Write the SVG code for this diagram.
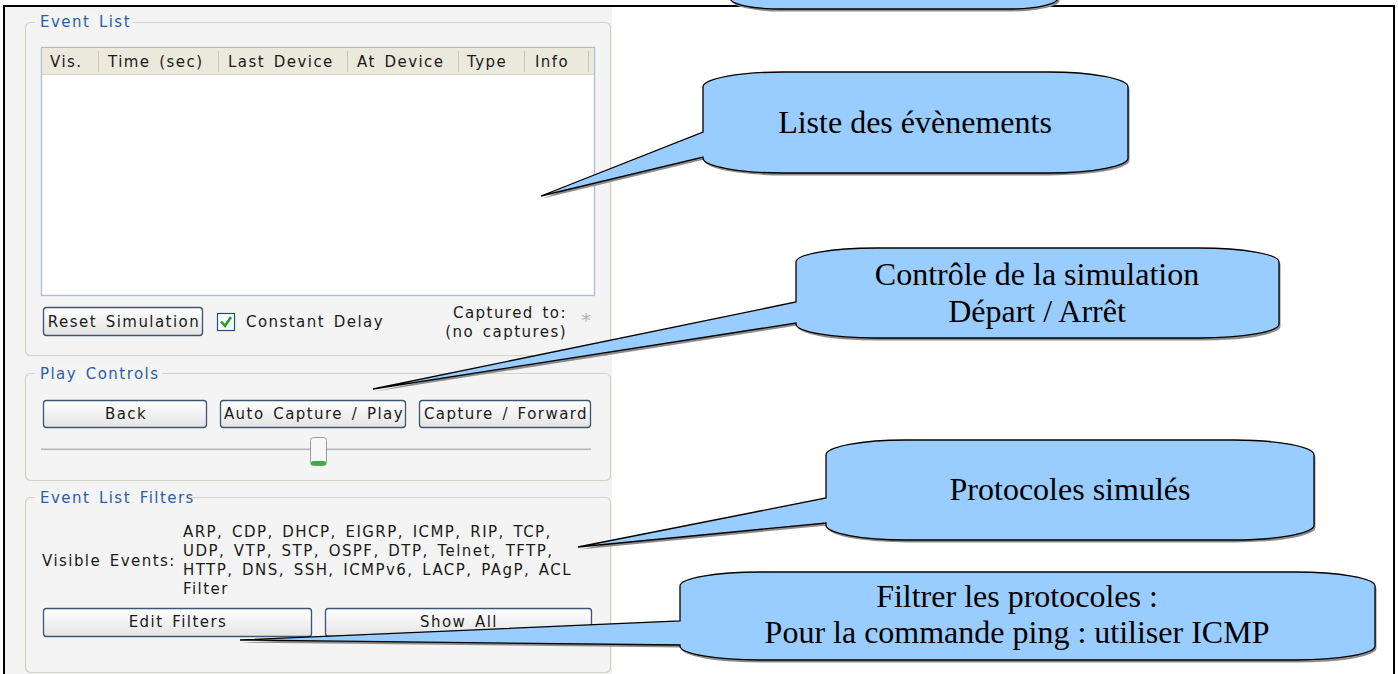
<svg xmlns="http://www.w3.org/2000/svg" width="1398" height="674" viewBox="0 0 1398 674">
<defs>
<linearGradient id="btn" x1="0" y1="0" x2="0" y2="1">
<stop offset="0" stop-color="#ffffff"/>
<stop offset="1" stop-color="#e4e4e4"/>
</linearGradient>
<style>
.ui{font-family:"DejaVu Sans",Verdana,sans-serif;font-size:15px;letter-spacing:1.45px;word-spacing:2.5px;fill:#1a1a1a}
.mid{text-anchor:middle}
.end{text-anchor:end}
.ttl{fill:#2b5ea8}
.grp{fill:#f4f4f4;stroke:#d3d3c6;stroke-width:1.2}
.tbg{fill:#f4f4f4}
.btn{fill:url(#btn);stroke:#3a5672;stroke-width:1.3}
.sep{stroke:#c9c5b3;stroke-width:1}
.co{font-family:"Liberation Serif","Times New Roman",serif;font-size:32px;fill:#000;text-anchor:middle}
.cb{fill:#99ccff;stroke:#000;stroke-width:1.3;stroke-linejoin:miter}
.sh{fill:#8c8c8c}
.frame{stroke:#000;stroke-width:2;fill:none}
</style>
</defs>
<rect width="1398" height="674" fill="#ffffff"/>
<!-- screenshot background -->
<rect x="5" y="7" width="607" height="667" fill="#f3f3f3"/>

<g id="event-list">
<rect class="grp" x="25.5" y="22.5" width="585" height="333" rx="5"/>
<rect class="tbg" x="35" y="14" width="97" height="16"/>
<text class="ui ttl" x="40" y="27">Event List</text>
<rect x="41.5" y="47.5" width="553" height="248" fill="#ffffff" stroke="#a9bdd3" stroke-width="1.3"/>
<rect x="42" y="48" width="552" height="26" fill="#ebe9dc"/>
<line x1="42" y1="74.5" x2="594" y2="74.5" stroke="#d8d4c4"/>
<g class="sep">
<line x1="98.5" y1="51" x2="98.5" y2="72"/>
<line x1="218.5" y1="51" x2="218.5" y2="72"/>
<line x1="347.5" y1="51" x2="347.5" y2="72"/>
<line x1="458.5" y1="51" x2="458.5" y2="72"/>
<line x1="524.5" y1="51" x2="524.5" y2="72"/>
<line x1="588.5" y1="51" x2="588.5" y2="72"/>
</g>
<text class="ui" x="50" y="67">Vis.</text>
<text class="ui" x="108" y="67">Time (sec)</text>
<text class="ui" x="228" y="67">Last Device</text>
<text class="ui" x="357" y="67">At Device</text>
<text class="ui" x="467" y="67">Type</text>
<text class="ui" x="535" y="67">Info</text>
<rect class="btn" x="43.5" y="307.5" width="159" height="28" rx="3"/>
<text class="ui mid" x="124" y="327">Reset Simulation</text>
<rect x="217.5" y="313.5" width="17" height="17" fill="#ffffff" stroke="#1c5180" stroke-width="1.2"/>
<path d="M221 321.5 L225 326 L231 317" fill="none" stroke="#21a121" stroke-width="2.6"/>
<text class="ui" x="246" y="327">Constant Delay</text>
<text class="ui end" x="567" y="318">Captured to:</text>
<text class="ui end" x="567" y="337">(no captures)</text>
<text x="586" y="327" font-family="DejaVu Sans,sans-serif" font-size="20" fill="#b5b5b5" text-anchor="middle">*</text>
</g>

<g id="play-controls">
<rect class="grp" x="25.5" y="373.5" width="585" height="107" rx="5"/>
<rect class="tbg" x="35" y="365" width="127" height="16"/>
<text class="ui ttl" x="40" y="379">Play Controls</text>
<rect class="btn" x="43.5" y="400.5" width="163" height="27" rx="3"/>
<text class="ui mid" x="126" y="419">Back</text>
<rect class="btn" x="220.5" y="400.5" width="185" height="27" rx="3"/>
<text class="ui mid" x="314" y="419">Auto Capture / Play</text>
<rect class="btn" x="419.5" y="400.5" width="171" height="27" rx="3"/>
<text class="ui mid" x="506" y="419">Capture / Forward</text>
<line x1="41" y1="449.5" x2="591" y2="449.5" stroke="#b8b8b8" stroke-width="2"/>
<line x1="41" y1="451" x2="591" y2="451" stroke="#ffffff" stroke-width="1"/>
<rect x="310.5" y="437.5" width="16" height="28" rx="3" fill="#f7f7f7" stroke="#9a9a9a"/>
<rect x="311" y="461" width="15" height="4.5" rx="2" fill="#3fae3f"/>
</g>

<g id="event-list-filters">
<rect class="grp" x="25.5" y="497.5" width="585" height="175" rx="5"/>
<rect class="tbg" x="35" y="489" width="156" height="16"/>
<text class="ui ttl" x="40" y="503">Event List Filters</text>
<text class="ui" x="183" y="537">ARP, CDP, DHCP, EIGRP, ICMP, RIP, TCP,</text>
<text class="ui" x="183" y="556">UDP, VTP, STP, OSPF, DTP, Telnet, TFTP,</text>
<text class="ui" x="183" y="575">HTTP, DNS, SSH, ICMPv6, LACP, PAgP, ACL</text>
<text class="ui" x="183" y="594">Filter</text>
<text class="ui" x="42" y="566">Visible Events:</text>
<rect class="btn" x="43.5" y="608.5" width="268" height="28" rx="3"/>
<text class="ui mid" x="178" y="627">Edit Filters</text>
<rect class="btn" x="325.5" y="608.5" width="266" height="28" rx="3"/>
<text class="ui mid" x="459" y="627">Show All</text>
</g>

<g id="frame">
<path class="frame" d="M3 6 H1395 M4 6 V674 M1394 6 V674"/>
</g>

<g id="connectors">
<!-- callout pointers are drawn as part of each callout shape -->
</g>

<g id="callout-top">
<path class="sh" transform="translate(1.5,2.5)" d="M730 -40 V-2 A50 11 0 0 0 780 9 H1008 A50 11 0 0 0 1058 -2 V-40 Z"/>
<path class="cb" d="M730 -40 V-2 A50 11 0 0 0 780 9 H1008 A50 11 0 0 0 1058 -2 V-40 Z"/>
</g>

<g id="callout-liste">
<path class="sh" transform="translate(1.5,2.5)" d="M783 72 H1048 A80 15 0 0 1 1128 87 V158 A80 15 0 0 1 1048 173 H783 A80 15 0 0 1 703 158 V157 L541 196 L703 132 V87 A80 15 0 0 1 783 72 Z"/>
<path class="cb" d="M783 72 H1048 A80 15 0 0 1 1128 87 V158 A80 15 0 0 1 1048 173 H783 A80 15 0 0 1 703 158 V157 L541 196 L703 132 V87 A80 15 0 0 1 783 72 Z"/>
<text class="co" x="915" y="133">Liste des évènements</text>
</g>

<g id="callout-controle">
<path class="sh" transform="translate(1.5,2.5)" d="M876 248 H1199 A80 14 0 0 1 1279 262 V324 A80 14 0 0 1 1199 338 H876 A80 14 0 0 1 796 324 V323 L373 389 L796 302 V262 A80 14 0 0 1 876 248 Z"/>
<path class="cb" d="M876 248 H1199 A80 14 0 0 1 1279 262 V324 A80 14 0 0 1 1199 338 H876 A80 14 0 0 1 796 324 V323 L373 389 L796 302 V262 A80 14 0 0 1 876 248 Z"/>
<text class="co" x="1037" y="285">Contrôle de la simulation</text>
<text class="co" x="1037" y="322">Départ / Arrêt</text>
</g>

<g id="callout-protocoles">
<path class="sh" transform="translate(1.5,2.5)" d="M906 440 H1234 A80 15 0 0 1 1314 455 V525 A80 15 0 0 1 1234 540 H906 A80 15 0 0 1 826 525 V523 L578 547 L826 498 V455 A80 15 0 0 1 906 440 Z"/>
<path class="cb" d="M906 440 H1234 A80 15 0 0 1 1314 455 V525 A80 15 0 0 1 1234 540 H906 A80 15 0 0 1 826 525 V523 L578 547 L826 498 V455 A80 15 0 0 1 906 440 Z"/>
<text class="co" x="1070" y="500">Protocoles simulés</text>
</g>

<g id="callout-filtrer">
<path class="sh" transform="translate(1.5,2.5)" d="M760 572 H1295 A80 14 0 0 1 1375 586 V646 A80 14 0 0 1 1295 660 H760 A80 14 0 0 1 680 646 V645 L240 640 L680 621 V586 A80 14 0 0 1 760 572 Z"/>
<path class="cb" d="M760 572 H1295 A80 14 0 0 1 1375 586 V646 A80 14 0 0 1 1295 660 H760 A80 14 0 0 1 680 646 V645 L240 640 L680 621 V586 A80 14 0 0 1 760 572 Z"/>
<text class="co" x="1017" y="607">Filtrer les protocoles :</text>
<text class="co" x="1017" y="643">Pour la commande ping : utiliser ICMP</text>
</g>
</svg>
